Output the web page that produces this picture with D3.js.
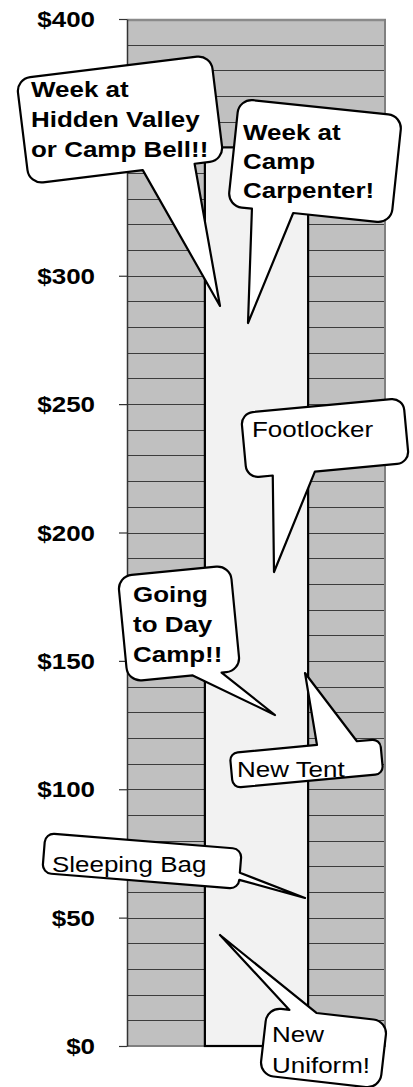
<!DOCTYPE html>
<html><head><meta charset="utf-8">
<script src="https://cdn.jsdelivr.net/npm/d3@7"></script>
<style>body{margin:0;background:#fff}svg{display:block}</style>
</head><body><svg id="c" width="413" height="1087"></svg>
<script>
// ---- data ----
const categories = ["Camp Fund"];
const values = [350];
const tickValues = [0, 50, 100, 150, 200, 250, 300, 400];
const tickLabels = ["$0", "$50", "$100", "$150", "$200", "$250", "$300", "$400"];
const gridValues = [10,20,30,40,50,60,70,80,90,100,110,120,130,140,150,160,170,180,190,200,210,220,230,240,250,260,270,280,290,300,310,320,330,340,350,360,370,380,390];
const calloutTexts = [
  ["Week at", "Hidden Valley", "or Camp Bell!!"],
  ["Week at", "Camp", "Carpenter!"],
  ["Footlocker"],
  ["Going", "to Day", "Camp!!"],
  ["New Tent"],
  ["Sleeping Bag"],
  ["New", "Uniform!"]
];
const calloutBold = [true, true, false, true, false, false, false];

// ---- layout (annotation geometry, not data) ----
const calloutLayout = [
  {cx:120, cy:119.5, w:196, h:106, a:-7,   r:14, edge:"bottom", base:[[143,172],[195,167]], tip:[220,306], tx:31,  ty:97,   lh:30},
  {cx:315, cy:161,   w:164, h:108, a:6,    r:14, edge:"bottom", base:[[252,208],[293,215]], tip:[248,323], tx:243, ty:140,  lh:29},
  {cx:325, cy:438,   w:163, h:65,  a:-5.3, r:12, edge:"bottom", base:[[273,478],[315,473]], tip:[274,572], tx:252, ty:437,  lh:30},
  {cx:179, cy:623.5, w:113, h:106, a:-5.5, r:14, edge:"bottom", base:[[193,678],[222,677]], tip:[275,715], tx:133, ty:602,  lh:30},
  {cx:306.5, cy:763.5, w:151, h:35, a:-5.3, r:8, edge:"top",   base:[[317,745],[357,742]], tip:[305,673], tx:237, ty:777,  lh:30},
  {cx:142, cy:861,   w:197, h:40,  a:4.6,  r:9,  edge:"right",  base:[[243,873],[240,885]], tip:[305,898], tx:52,  ty:872,  lh:30},
  {cx:323.5, cy:1048, w:121, h:68, a:6.5,  r:14, edge:"top",    base:[[290,1005],[317,1008]], tip:[220,935], tx:272, ty:1042, lh:31}
];
const SX = 1.18;
const FONT = "'Liberation Sans', Arial, Helvetica, sans-serif";

const svg = d3.select("#c");
const pLeft = 127, pRight = 386, pTop = 19, pBottom = 1046;

const y = d3.scaleLinear().domain([0, 400]).range([pBottom, pTop]);
const x = d3.scaleBand().domain(categories).range([pLeft, pRight]).padding(0.43);

// plot background
svg.append("rect").attr("x", pLeft).attr("y", pTop).attr("width", pRight - pLeft).attr("height", pBottom - pTop)
  .attr("fill", "#c0c0c0");

// gridlines
svg.append("g").selectAll("line").data(gridValues).join("line")
  .attr("x1", pLeft).attr("x2", pRight)
  .attr("y1", d => Math.round(y(d)) + 0.5).attr("y2", d => Math.round(y(d)) + 0.5)
  .attr("stroke", "#3c3c3c").attr("stroke-width", 1);

// borders
svg.append("line").attr("x1", pLeft).attr("x2", pRight).attr("y1", y(400) + 1).attr("y2", y(400) + 1)
  .attr("stroke", "#8a8a8a").attr("stroke-width", 2.5);
svg.append("line").attr("x1", pRight - 1).attr("x2", pRight - 1).attr("y1", pTop).attr("y2", pBottom)
  .attr("stroke", "#808080").attr("stroke-width", 2);
svg.append("line").attr("x1", pLeft).attr("x2", pRight).attr("y1", pBottom).attr("y2", pBottom)
  .attr("stroke", "#808080").attr("stroke-width", 2);

// bar
svg.append("g").selectAll("rect").data(values).join("rect")
  .attr("x", (d, i) => x(categories[i]))
  .attr("width", x.bandwidth())
  .attr("y", d => y(d))
  .attr("height", d => y(0) - y(d))
  .attr("fill", "#f2f2f2").attr("stroke", "#000").attr("stroke-width", 2.2);

// axis
const axis = d3.axisLeft(y).tickValues(tickValues).tickFormat((d, i) => tickLabels[i])
  .tickSize(8).tickSizeOuter(0);
const ag = svg.append("g").attr("transform", `translate(${pLeft},0)`).call(axis);
ag.select(".domain").attr("stroke", "#333").attr("stroke-width", 1.5);
ag.selectAll(".tick line").attr("stroke", "#333").attr("stroke-width", 1.2);
ag.selectAll(".tick text")
  .attr("x", null).attr("dy", "0.35em")
  .attr("transform", `translate(-32,0) scale(${SX},1)`)
  .attr("fill", "#000").attr("font-family", FONT).attr("font-size", 22).attr("font-weight", "bold")
  .attr("text-anchor", "end");

// callouts
function calloutPath(L) {
  const W = L.w / 2, H = L.h / 2, r = L.r;
  const rad = L.a * Math.PI / 180, c = Math.cos(rad), s = Math.sin(rad);
  const toLocal = p => {
    const dx = p[0] - L.cx, dy = p[1] - L.cy;
    return [dx * c + dy * s, -dx * s + dy * c];
  };
  const tip = toLocal(L.tip);
  const b = L.base.map(toLocal);
  const clampX = v => Math.max(-W + r, Math.min(W - r, v));
  const clampY = v => Math.max(-H + r, Math.min(H - r, v));
  const p = d3.path();
  p.moveTo(-W + r, -H);
  if (L.edge === "top") {
    const xs = b.map(q => clampX(q[0])).sort((m, n) => m - n);
    p.lineTo(xs[0], -H); p.lineTo(tip[0], tip[1]); p.lineTo(xs[1], -H);
  }
  p.lineTo(W - r, -H);
  p.arcTo(W, -H, W, -H + r, r);
  if (L.edge === "right") {
    const ys = b.map(q => clampY(q[1])).sort((m, n) => m - n);
    p.lineTo(W, ys[0]); p.lineTo(tip[0], tip[1]); p.lineTo(W, ys[1]);
  }
  p.lineTo(W, H - r);
  p.arcTo(W, H, W - r, H, r);
  if (L.edge === "bottom") {
    const xs = b.map(q => clampX(q[0])).sort((m, n) => n - m);
    p.lineTo(xs[0], H); p.lineTo(tip[0], tip[1]); p.lineTo(xs[1], H);
  }
  p.lineTo(-W + r, H);
  p.arcTo(-W, H, -W, H - r, r);
  p.lineTo(-W, -H + r);
  p.arcTo(-W, -H, -W + r, -H, r);
  p.closePath();
  return p.toString();
}

const cg = svg.append("g").selectAll("g").data(calloutLayout).join("g");
cg.append("path")
  .attr("d", d => calloutPath(d))
  .attr("transform", d => `translate(${d.cx},${d.cy}) rotate(${d.a})`)
  .attr("fill", "#fff").attr("stroke", "#000").attr("stroke-width", 2.2).attr("stroke-linejoin", "round");
cg.each(function(d, i) {
  d3.select(this).selectAll("text").data(calloutTexts[i]).join("text")
    .attr("transform", (t, j) => `translate(${d.tx},${d.ty + j * d.lh}) scale(${SX},1)`)
    .attr("font-family", FONT).attr("font-size", 22)
    .attr("font-weight", calloutBold[i] ? "bold" : "normal")
    .attr("fill", "#000")
    .text(t => t);
});
</script>
</body></html>
